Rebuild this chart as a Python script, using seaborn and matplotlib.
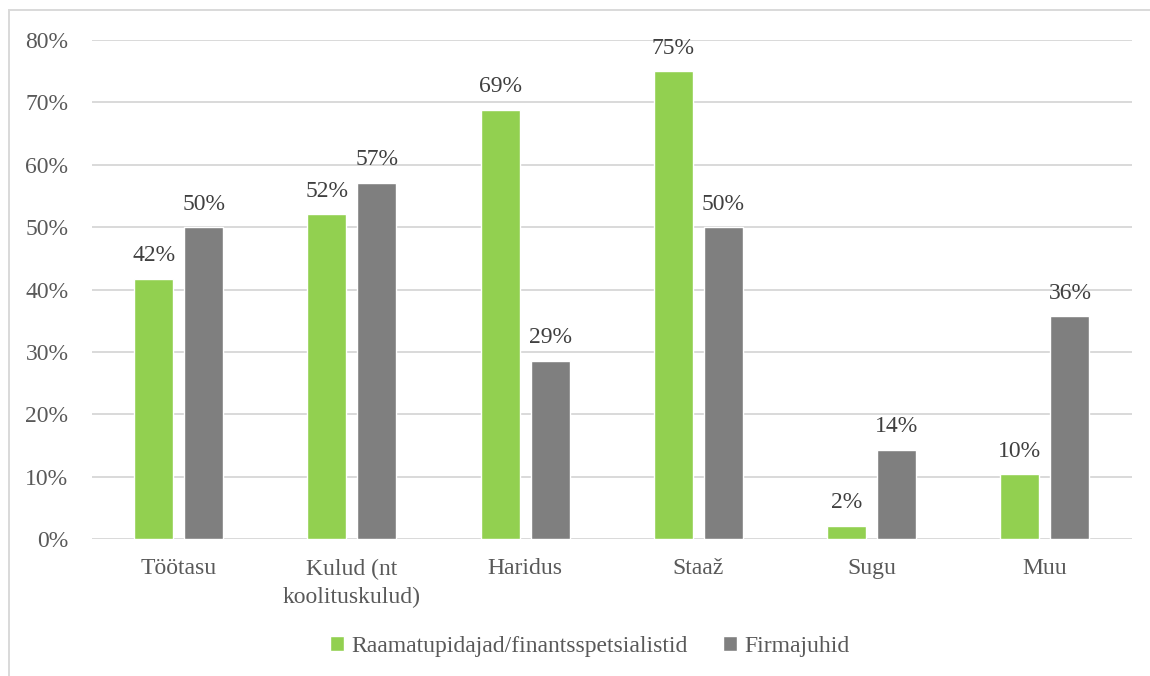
import matplotlib
matplotlib.use("Agg")
import matplotlib.pyplot as plt
import seaborn as sns
import pandas as pd
from matplotlib.patches import Rectangle
from matplotlib.ticker import PercentFormatter

categories = ["Töötasu", "Kulud (nt\nkoolituskulud)", "Haridus", "Staaž", "Sugu", "Muu"]
series_names = ["Raamatupidajad/finantsspetsialistid", "Firmajuhid"]
accountants = [41.7, 52.1, 68.8, 75.0, 2.1, 10.4]
managers = [50.0, 57.1, 28.6, 50.0, 14.3, 35.7]
colors = ["#92D050", "#7F7F7F"]

df = pd.DataFrame({
    "category": categories * 2,
    "group": [series_names[0]] * len(categories) + [series_names[1]] * len(categories),
    "value": accountants + managers,
})

sns.set_style("white")
plt.rcParams["font.family"] = ["Liberation Serif", "DejaVu Serif"]

FS = 17

fig = plt.figure(figsize=(11.5, 6.76), dpi=100)
ax = fig.add_axes([0.080, 0.2027, 0.904, 0.738])

sns.barplot(data=df, x="category", y="value", hue="group", order=categories,
            hue_order=series_names, palette=colors, width=0.577, gap=0.22,
            saturation=1, ax=ax, legend=True)

ax.set_ylim(0, 80)
ax.set_yticks(range(0, 81, 10))
ax.yaxis.set_major_formatter(PercentFormatter(decimals=0))
ax.grid(axis="y", color="#D9D9D9", linewidth=1.4)
ax.set_axisbelow(True)
for s in ax.spines.values():
    s.set_visible(False)
ax.set_xlabel("")
ax.set_ylabel("")
ax.tick_params(axis="both", length=0, labelsize=FS, labelcolor="#595959")
ax.tick_params(axis="x", pad=14)
ax.tick_params(axis="y", pad=17)
for lbl in ax.get_xticklabels():
    lbl.set_linespacing(1.45)

for container in ax.containers:
    ax.bar_label(container, labels=[f"{v:.0f}%" for v in container.datavalues],
                 padding=9, fontsize=FS, color="#404040")

handles, labels = ax.get_legend_handles_labels()
ax.legend(handles, labels, loc="center", bbox_to_anchor=(0.479, -0.215),
          ncol=2, frameon=False, fontsize=FS, labelcolor="#595959",
          handlelength=0.6, handleheight=0.6, handletextpad=0.3, columnspacing=1.5)

fig.patches.append(Rectangle((9 / 1150, -0.01), 1.0, 1 - 10 / 676 + 0.01,
                             transform=fig.transFigure, fill=False,
                             edgecolor="#D9D9D9", linewidth=1.4))

fig.savefig("out.png", dpi=100)
